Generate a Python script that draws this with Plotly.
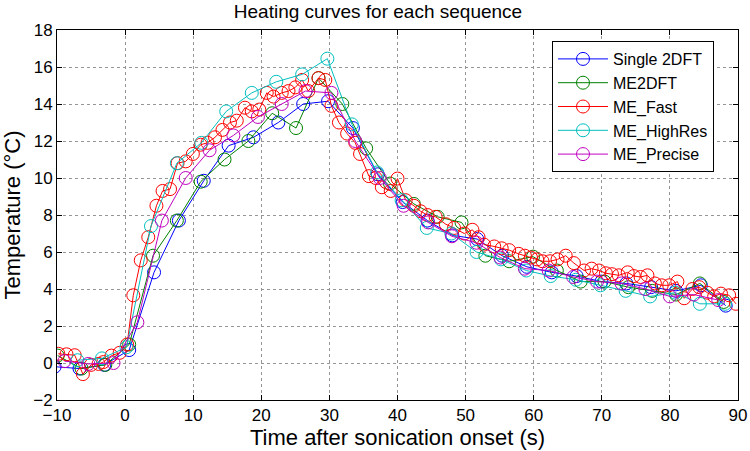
import plotly.graph_objects as go

# ---------------- data ----------------
single_t = [-10.35, -6.7, -3.05, 0.6, 4.25, 7.9, 11.55, 15.2, 18.85, 22.5, 26.15, 29.8,
            33.45, 37.1, 40.75, 44.4, 48.05, 51.7, 55.35, 59.0, 62.65, 66.3, 69.95,
            73.6, 77.25, 80.9, 84.55, 88.2]
single_T = [-0.2, -0.3, -0.1, 0.7, 4.9, 7.7, 9.85, 11.75, 12.2, 13.0, 14.0, 14.15,
            12.7, 10.2, 8.7, 7.7, 6.9, 6.7, 5.8, 5.2, 4.9, 4.7, 4.4,
            4.3, 4.1, 3.9, 4.2, 3.1]

me2dft_t = [-9.9, -6.4, -2.9, 0.6, 4.1, 7.6, 11.1, 14.6, 18.1, 21.6, 25.1, 28.4,
            31.9, 35.4, 38.9, 42.4, 45.9, 49.4, 52.9, 56.4, 59.9, 63.4, 66.9,
            70.4, 73.9, 77.4, 80.9, 84.4, 87.9]
me2dft_T = [0.4, -0.3, -0.1, 1.0, 5.8, 7.7, 9.8, 11.0, 12.0, 13.5, 12.7, 15.4,
            14.0, 11.6, 9.7, 8.6, 7.9, 7.6, 5.8, 5.5, 5.75, 5.0, 4.4,
            4.4, 4.1, 3.9, 3.7, 4.3, 3.3]

fast_t = [-9.8, -8.6, -7.4, -6.2, -5.0, -3.9, -3.2, -2.0, -0.8, 0.3, 1.2, 2.3, 3.4,
          4.6, 5.5, 6.6, 7.7, 8.9, 9.95, 11.1, 12.1, 13.2, 14.3, 15.4, 16.4, 17.6,
          18.6, 19.7, 20.8, 21.8, 23.0, 24.0, 25.0, 26.0, 26.9, 28.4, 29.4, 30.3,
          31.4, 32.6, 33.8, 34.5, 35.8, 36.8, 37.7, 39.0, 40.0, 41.2, 42.4, 43.4,
          44.4, 45.6, 47.1, 48.3, 49.8, 51.0, 51.9, 52.7, 54.2, 55.3, 56.4, 57.8,
          58.7, 59.6, 60.5, 61.3, 62.4, 63.5, 64.7, 65.9, 67.4, 68.5, 69.6, 70.6,
          71.5, 72.5, 73.8, 74.7, 75.7, 76.7, 77.8, 78.8, 79.9, 81.1, 82.1, 83.3,
          84.3, 85.5, 86.5, 87.5, 88.7, 89.7]
fast_T = [0.5, 0.47, 0.42, -0.6, -0.1, -0.05, 0.05, 0.4, 0.55, 1.0, 3.66, 5.55, 6.8,
          8.5, 9.3, 9.4, 10.8, 10.9, 11.3, 11.8, 11.9, 12.2, 12.6, 13.0, 13.1, 13.8,
          13.6, 13.7, 14.6, 14.4, 14.6, 14.7, 14.9, 15.3, 14.7, 15.4, 15.3, 13.9,
          13.0, 12.4, 11.9, 11.3, 10.1, 10.0, 9.5, 9.3, 9.97, 8.8, 8.5, 8.2,
          8.0, 7.9, 7.5, 7.3, 7.0, 7.2, 6.8, 6.4, 6.3, 6.2, 6.1, 5.9,
          5.8, 5.7, 5.6, 5.5, 5.5, 5.6, 5.8, 5.4, 5.0, 5.1, 5.0, 4.85,
          4.8, 4.74, 4.9, 4.7, 4.65, 4.74, 4.3, 4.2, 4.2, 4.4, 3.5, 4.0,
          4.1, 3.8, 3.6, 3.75, 3.66, 3.2]

highres_t = [-7.0, -3.4, 0.2, 3.8, 7.6, 11.2, 14.85, 18.6, 22.2, 26.0, 29.7, 33.3,
             37.0, 40.6, 44.3, 47.9, 51.6, 55.2, 58.9, 62.5, 66.2, 69.8, 73.5,
             77.1, 80.8, 84.4, 88.1]
highres_T = [0.15, 0.25, 0.85, 7.4, 10.8, 11.9, 13.6, 14.6, 15.2, 15.6, 16.45, 12.9,
             10.3, 8.8, 7.3, 7.0, 6.0, 5.6, 5.0, 4.7, 4.5, 4.2, 3.9,
             3.6, 3.8, 3.2, 3.2]

precise_t = [-8.9, -5.4, -1.7, 1.8, 5.4, 8.9, 12.4, 15.9, 19.5, 23.0, 26.5, 30.3,
             33.8, 37.4, 40.9, 44.5, 48.0, 51.6, 55.1, 58.7, 62.2, 65.8, 69.3,
             72.9, 76.4, 80.0, 83.5, 87.1]
precise_T = [0.1, -0.05, 0.0, 2.2, 7.7, 10.0, 11.5, 12.3, 13.3, 14.0, 14.7, 14.6,
             12.0, 10.0, 8.5, 7.6, 6.85, 6.5, 5.7, 5.1, 5.0, 4.65, 4.4,
             4.3, 4.0, 3.6, 3.7, 3.4]

series = [
    ("Single 2DFT", single_t, single_T, "rgb(0,0,255)"),
    ("ME2DFT", me2dft_t, me2dft_T, "rgb(0,128,0)"),
    ("ME_Fast", fast_t, fast_T, "rgb(255,0,0)"),
    ("ME_HighRes", highres_t, highres_T, "rgb(0,191,191)"),
    ("ME_Precise", precise_t, precise_T, "rgb(191,0,191)"),
]

x_ticks = list(range(-10, 91, 10))
y_ticks = list(range(-2, 19, 2))

FONT = "Liberation Sans, Arial, Helvetica, sans-serif"

fig = go.Figure()
for name, t, T, c in series:
    fig.add_trace(go.Scatter(
        x=t, y=T, name=name, mode="lines+markers",
        line=dict(color=c, width=1),
        marker=dict(symbol="circle-open", size=13, color=c, line=dict(width=1, color=c)),
    ))

axis_common = dict(
    showline=True, linecolor="black", linewidth=1, mirror="ticks",
    ticks="inside", ticklen=5, tickcolor="black",
    showgrid=True, gridcolor="rgb(150,150,150)", griddash="dot", gridwidth=1,
    zeroline=False, automargin=False,
    tickfont=dict(size=17, color="black", family=FONT),
)

fig.update_layout(
    width=750, height=451,
    margin=dict(l=57, r=12, t=30, b=51),
    paper_bgcolor="white", plot_bgcolor="white",
    font=dict(family=FONT, color="black"),
    title=dict(text="Heating curves for each sequence", x=0.504, xanchor="center",
               y=0.99, yanchor="top", font=dict(size=19, color="black", family=FONT)),
    xaxis=dict(range=[-10, 90], tickvals=x_ticks,
               title=dict(text="Time after sonication onset (s)", standoff=5,
                          font=dict(size=22, family=FONT)),
               **axis_common),
    yaxis=dict(range=[-2, 18], tickvals=y_ticks,
               title=dict(text="Temperature (°C)", standoff=9,
                          font=dict(size=22, family=FONT)),
               **axis_common),
    legend=dict(x=(552 - 57) / 681, xanchor="left", y=1 - (41 - 30) / 370, yanchor="top",
                bgcolor="white", bordercolor="black", borderwidth=1,
                font=dict(size=16, family=FONT, color="black"),
                itemwidth=50, tracegroupgap=0),
    showlegend=True,
)

fig.write_html("out.html", config={"displayModeBar": False},
               post_script="document.body.style.margin='0';document.body.style.padding='0';")
